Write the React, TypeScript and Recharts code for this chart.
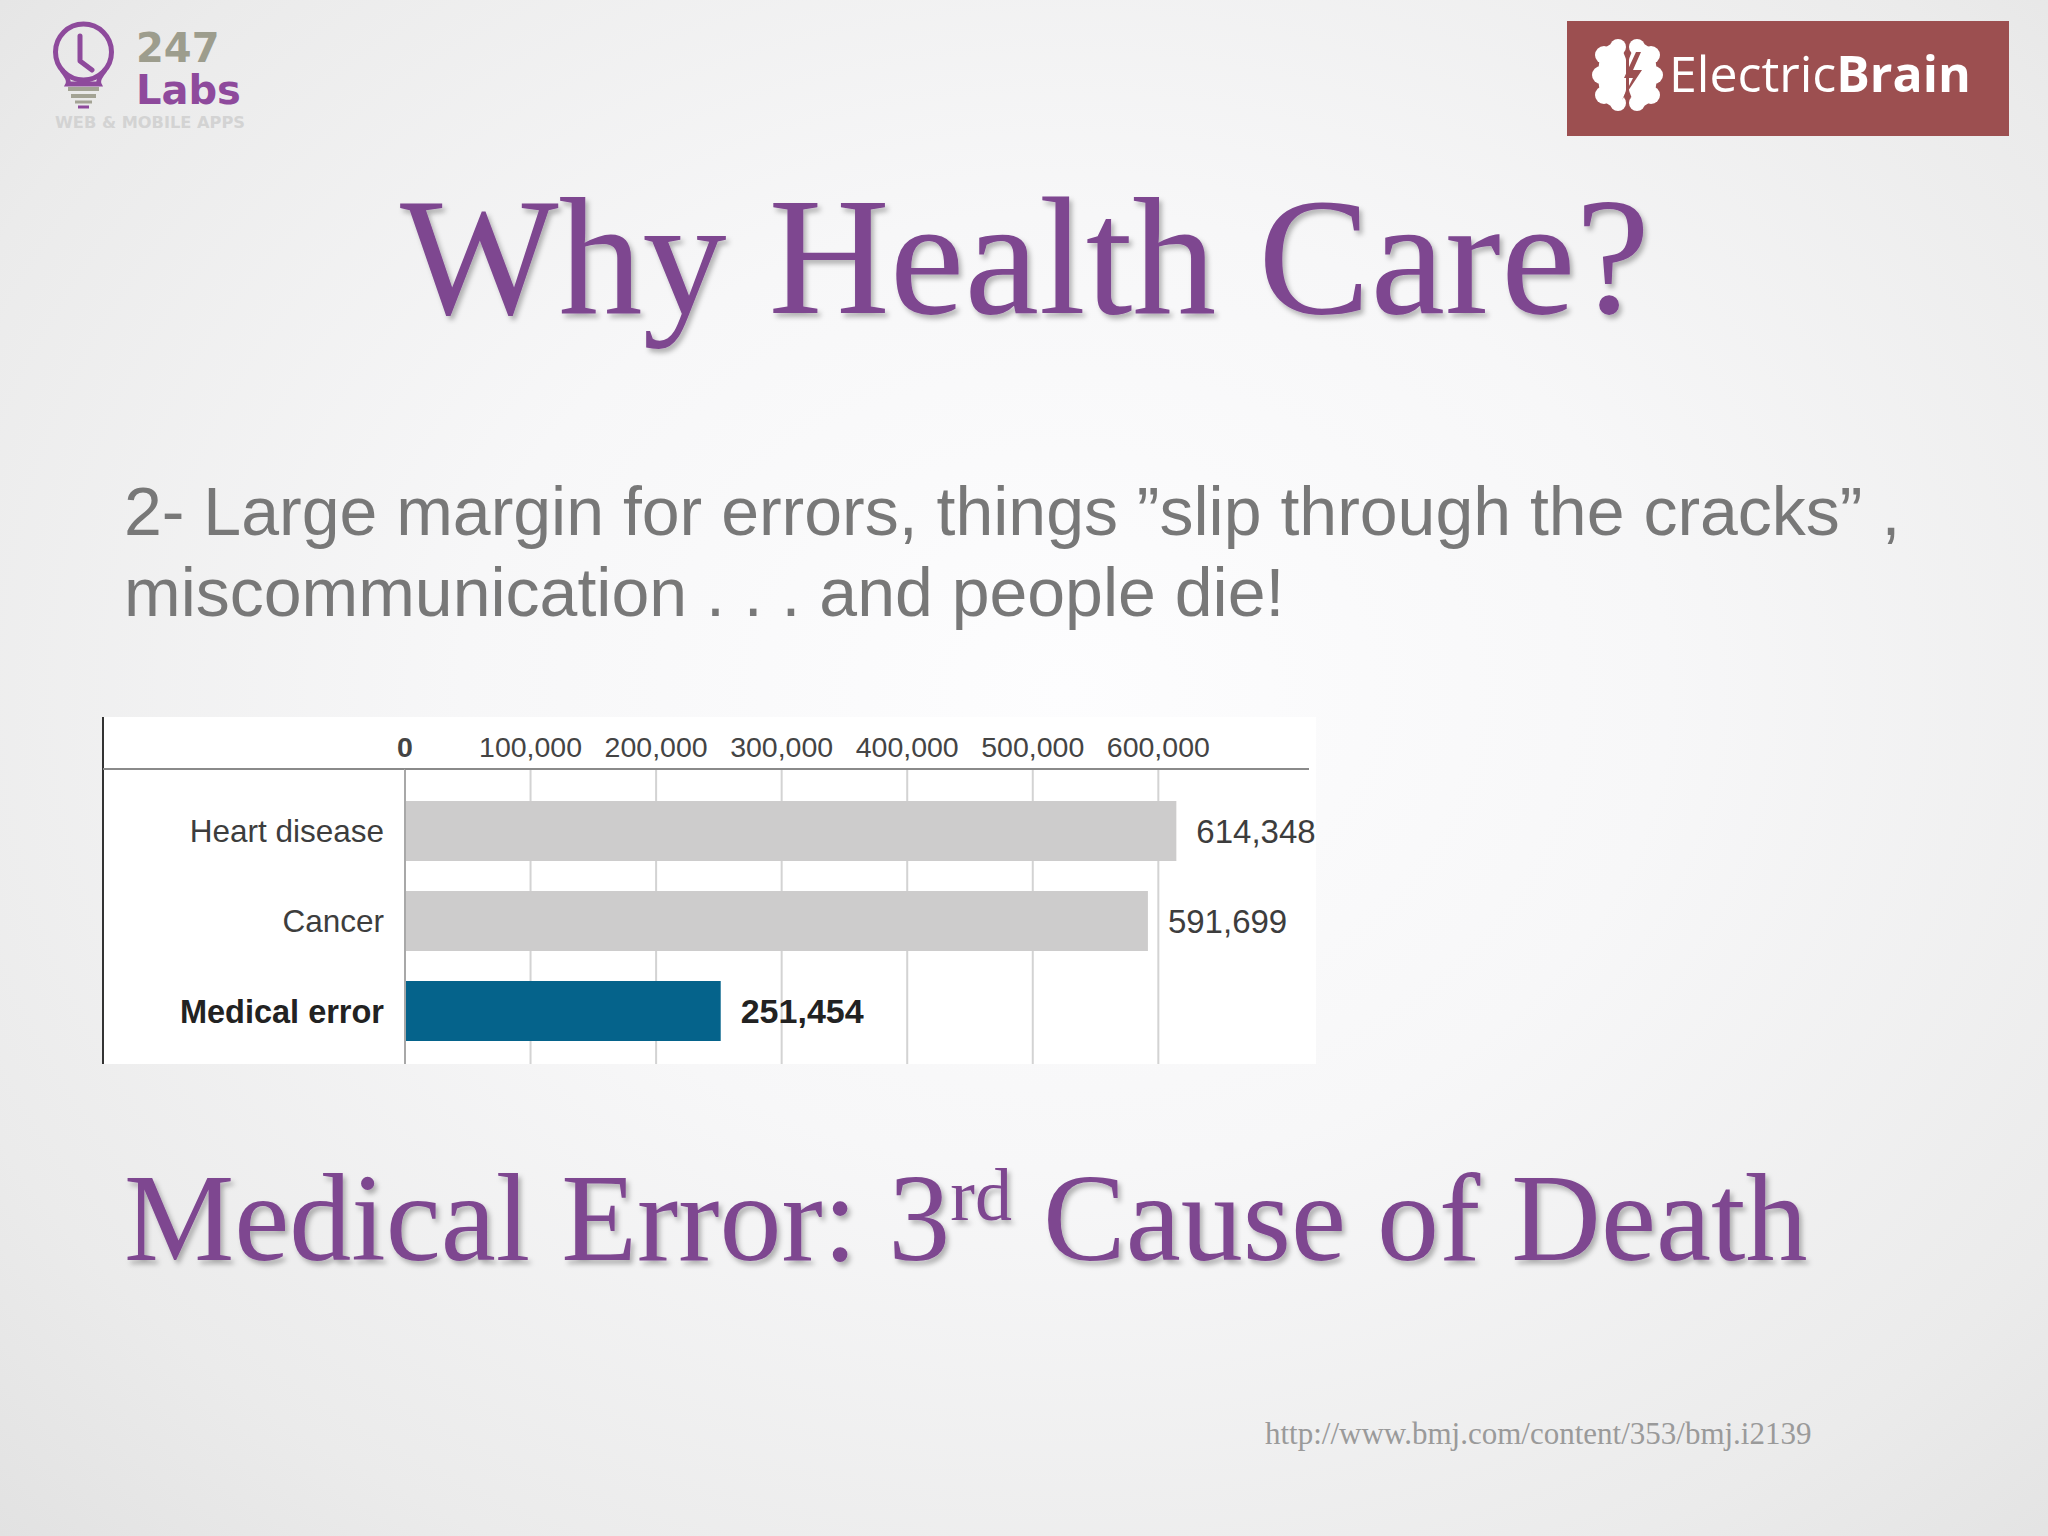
import React from 'react';
import { BarChart, Bar, XAxis, YAxis, CartesianGrid, Cell, LabelList, ReferenceLine } from 'recharts';

// ---- data ----
const categories = ['Heart disease', 'Cancer', 'Medical error'];
const deaths = [614348, 591699, 251454];
const tickValues = [0, 100000, 200000, 300000, 400000, 500000, 600000];
const axisMax = 720000;
const highlighted = 'Medical error';

const data = categories.map((name, i) => ({ name, deaths: deaths[i] }));

const fmt = (v: number) => v.toLocaleString('en-US');

const CHART_FONT = "'Liberation Sans', Arial, sans-serif";
const PURPLE = '#7e4790';

const XTick = (props: any) => {
  const { x, y, payload } = props;
  const zero = payload.value === 0;
  return (
    <text x={x} y={y} textAnchor="middle" fontSize={28.5} fontWeight={zero ? 700 : 400} fill="#444" fontFamily={CHART_FONT}>
      {fmt(payload.value)}
    </text>
  );
};

const YTick = (props: any) => {
  const { x, y, payload } = props;
  const hi = payload.value === highlighted;
  return (
    <text x={x} y={y} dy="0.36em" textAnchor="end" fontSize={hi ? 32.5 : 31.5} fontWeight={hi ? 700 : 400} fill={hi ? '#222' : '#3d3d3d'} fontFamily={CHART_FONT}>
      {payload.value}
    </text>
  );
};

const ValueLabel = (props: any) => {
  const { x, y, width, height, value, index } = props;
  const hi = categories[index] === highlighted;
  return (
    <text x={x + width + 20} y={y + height / 2} dy="0.36em" textAnchor="start" fontSize={hi ? 34 : 33} fontWeight={hi ? 700 : 400} fill={hi ? '#222' : '#3d3d3d'} fontFamily={CHART_FONT}>
      {fmt(value)}
    </text>
  );
};

const gridGenerator = (props: any) => {
  const scale = props && props.xAxis && props.xAxis.scale;
  if (typeof scale === 'function') {
    return tickValues.map((v) => scale(v));
  }
  const off = props && props.offset;
  if (off) {
    return tickValues.map((v) => off.left + (v / axisMax) * off.width);
  }
  return [];
};

const Logo247 = () => (
  <g>
    <circle cx={83.5} cy={52} r={28} fill="none" stroke="#8e4a9c" strokeWidth={5} />
    <path d="M62 70 Q70 80 68 84 L99 84 Q97 80 105 70" fill="none" stroke="#8e4a9c" strokeWidth={5} />
    <polyline points="80,36 80,61 92,70" fill="none" stroke="#8e4a9c" strokeWidth={5} strokeLinecap="round" strokeLinejoin="round" />
    <line x1={68} y1={89} x2={99} y2={89} stroke="#a3a394" strokeWidth={4} />
    <line x1={71} y1={96} x2={96} y2={96} stroke="#a3a394" strokeWidth={4} />
    <line x1={75} y1={102} x2={92} y2={102} stroke="#a3a394" strokeWidth={3} />
    <line x1={78} y1={107} x2={89} y2={107} stroke="#8e4a9c" strokeWidth={3} />
    <text x={136} y={62} fontSize={40} fontWeight={700} fill="#9d9d8d" fontFamily="'DejaVu Sans', sans-serif">247</text>
    <text x={136} y={104} fontSize={40} fontWeight={700} fill="#8e4a9c" fontFamily="'DejaVu Sans', sans-serif">Labs</text>
    <text x={55} y={128} fontSize={16} fontWeight={700} fill="#d3d3d3" fontFamily="'DejaVu Sans', sans-serif" textLength={190} lengthAdjust="spacingAndGlyphs">WEB &amp; MOBILE APPS</text>
  </g>
);

const ElectricBrain = () => {
  const box = '#9c4f50';
  return (
    <g>
      <rect x={1567} y={21} width={442} height={115} fill={box} />
      <g fill="#fff">
        <ellipse cx={1613} cy={75} rx={15} ry={31} />
        <ellipse cx={1642} cy={75} rx={15} ry={31} />
        <circle cx={1604} cy={55} r={9} />
        <circle cx={1601} cy={75} r={9} />
        <circle cx={1604} cy={95} r={9} />
        <circle cx={1651} cy={55} r={9} />
        <circle cx={1654} cy={75} r={9} />
        <circle cx={1651} cy={95} r={9} />
        <circle cx={1618} cy={47} r={8} />
        <circle cx={1637} cy={47} r={8} />
        <circle cx={1618} cy={103} r={8} />
        <circle cx={1637} cy={103} r={8} />
      </g>
      <line x1={1627.5} y1={42} x2={1627.5} y2={110} stroke={box} strokeWidth={3} />
      <polygon points="1636,52 1624,78 1633,78 1622,100 1642,70 1633,70 1641,52" fill={box} />
      <text x={1669} y={92} fontSize={50} fill="#fff" fontFamily="'Open Sans', sans-serif">
        Electric<tspan fontWeight={700}>Brain</tspan>
      </text>
    </g>
  );
};

export default function App() {
  return (
    <div
      style={{
        position: 'absolute',
        left: 0,
        top: 0,
        width: 2048,
        height: 1536,
        overflow: 'hidden',
        background: 'radial-gradient(ellipse at 52% 45%, #fdfdfe 0%, #f7f7f8 40%, #ebebeb 80%, #e2e2e2 100%)',
      }}
    >
      <svg width={2048} height={1536} style={{ position: 'absolute', left: 0, top: 0 }}>
        <defs>
          <filter id="ts" x="-5%" y="-20%" width="110%" height="140%">
            <feDropShadow dx={3} dy={4} stdDeviation={2.5} floodColor="#000" floodOpacity={0.28} />
          </filter>
        </defs>
        <Logo247 />
        <ElectricBrain />
        <text x={1025} y={313} textAnchor="middle" fontSize={168} fill={PURPLE} fontFamily="'Liberation Serif', 'Times New Roman', serif" filter="url(#ts)">
          Why Health Care?
        </text>
        <g fontSize={68} fill="#787878" fontFamily="'Liberation Sans', Arial, sans-serif">
          <text x={124} y={535}>2- Large margin for errors, things ”slip through the cracks” ,</text>
          <text x={124} y={616}>miscommunication . . . and people die!</text>
        </g>
        <text x={124} y={1260} fontSize={124} fill={PURPLE} fontFamily="'Liberation Serif', 'Times New Roman', serif" filter="url(#ts)">
          Medical Error: 3<tspan fontSize={74} dy={-40}>rd</tspan>
          <tspan dy={40}> Cause of Death</tspan>
        </text>
        <text x={1265} y={1444} fontSize={31} fill="#9a9a9a" fontFamily="'Liberation Serif', 'Times New Roman', serif">
          http://www.bmj.com/content/353/bmj.i2139
        </text>
      </svg>

      <div
        style={{
          position: 'absolute',
          left: 102,
          top: 717,
          width: 1214,
          height: 347,
          background: '#ffffff',
          borderLeft: '2px solid #333',
          boxSizing: 'border-box',
        }}
      />
      <div style={{ position: 'absolute', left: 103, top: 768, width: 304, height: 2, background: '#8a8a8a' }} />
      <div style={{ position: 'absolute', left: 103, top: 717 }}>
        <BarChart
          width={1220}
          height={347}
          data={data}
          layout="vertical"
          margin={{ top: 0, right: 14, bottom: 0, left: 0 }}
          barSize={60}
        >
          <CartesianGrid horizontal={false} stroke="#d3d3d3" strokeWidth={2} verticalCoordinatesGenerator={gridGenerator} />
          <XAxis
            type="number"
            orientation="top"
            domain={[0, axisMax]}
            ticks={tickValues}
            height={52}
            tick={<XTick />}
            tickLine={false}
            tickSize={0}
            tickMargin={12}
            axisLine={{ stroke: '#8a8a8a', strokeWidth: 2 }}
            interval={0}
          />
          <YAxis
            type="category"
            dataKey="name"
            width={302}
            tick={<YTick />}
            tickLine={false}
            tickSize={0}
            tickMargin={21}
            axisLine={false}
            padding={{ top: 17, bottom: 8 }}
          />
          <ReferenceLine x={0} stroke="#a8a8a8" strokeWidth={2} />
          <Bar dataKey="deaths" isAnimationActive={false}>
            {data.map((d) => (
              <Cell key={d.name} fill={d.name === highlighted ? '#05638b' : '#cdcccc'} />
            ))}
            <LabelList dataKey="deaths" content={<ValueLabel />} />
          </Bar>
        </BarChart>
      </div>
    </div>
  );
}
